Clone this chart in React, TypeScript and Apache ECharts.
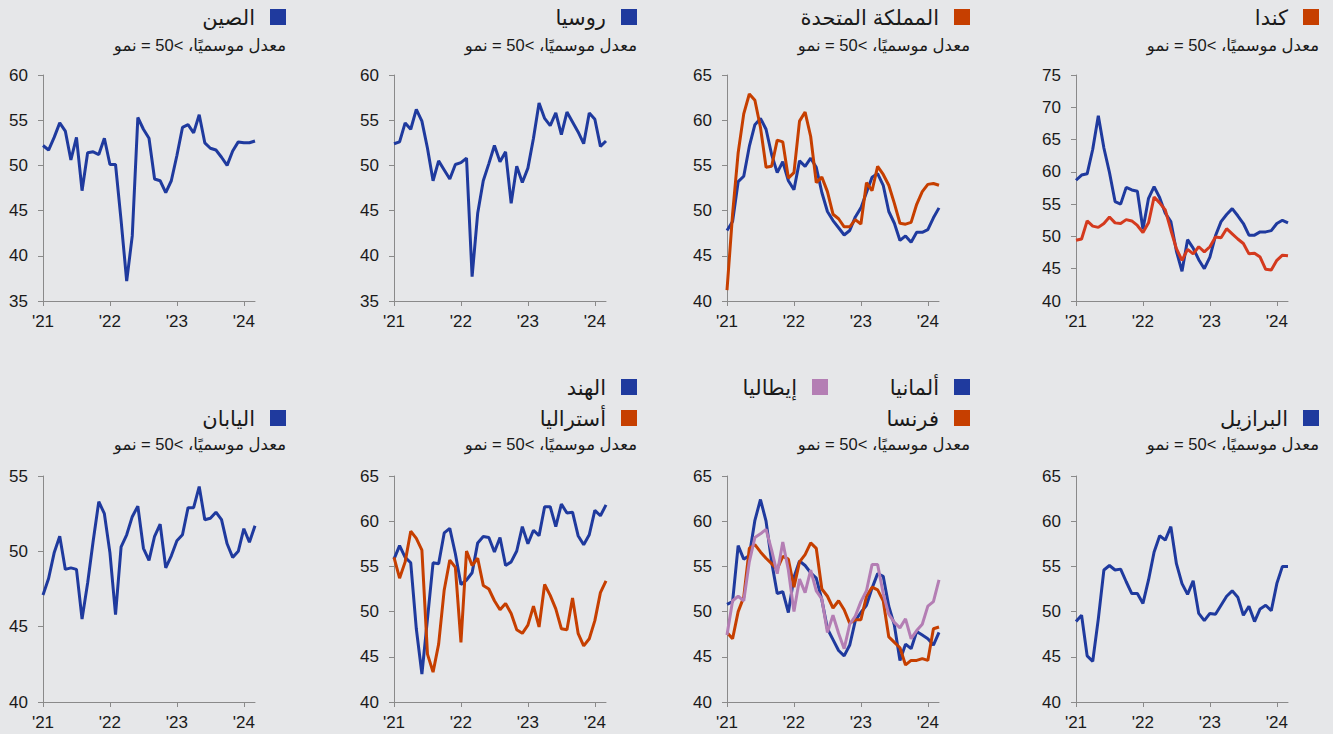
import React, { useEffect, useRef } from "react";
import * as echarts from "echarts";

// Months Jan 2021 .. Mar 2024
const MONTHS: string[] = [];
for (const y of [2021, 2022, 2023, 2024]) {
  for (let m = 1; m <= 12; m++) {
    if (y === 2024 && m > 3) break;
    MONTHS.push(`${y}-${String(m).padStart(2, "0")}`);
  }
}

const CHINA = [52.2, 51.7, 53.1, 54.7, 53.8, 50.6, 53.1, 47.2, 51.4, 51.5, 51.2, 53.0, 50.1, 50.1, 43.9, 37.2, 42.2, 55.3, 54.0, 53.0, 48.5, 48.3, 47.0, 48.3, 51.1, 54.2, 54.5, 53.6, 55.6, 52.5, 51.9, 51.7, 50.9, 50.0, 51.6, 52.6, 52.5, 52.5, 52.7];
const RUSSIA = [52.4, 52.6, 54.7, 54.0, 56.2, 54.9, 51.9, 48.3, 50.5, 49.5, 48.5, 50.1, 50.3, 50.8, 37.7, 44.7, 48.3, 50.2, 52.2, 50.4, 51.5, 45.8, 49.9, 48.1, 49.7, 53.0, 56.9, 55.2, 54.4, 55.8, 53.4, 55.9, 54.8, 53.7, 52.4, 55.8, 55.1, 52.1, 52.7];
const UK_BLUE = [47.8, 48.8, 53.2, 53.8, 57.1, 59.5, 60.2, 59.0, 56.2, 54.2, 55.4, 53.3, 52.3, 55.5, 54.9, 55.8, 54.8, 52.0, 49.9, 48.9, 48.1, 47.3, 47.8, 49.3, 50.3, 52.0, 53.7, 54.1, 52.8, 49.9, 48.6, 46.7, 47.2, 46.5, 47.6, 47.6, 47.9, 49.2, 50.3];
const UK = [41.2, 49.6, 56.4, 60.7, 62.9, 62.2, 59.2, 54.8, 54.9, 57.8, 57.6, 53.6, 54.2, 59.9, 60.9, 58.2, 53.1, 53.7, 52.1, 49.6, 49.1, 48.2, 48.2, 49.0, 48.5, 53.1, 52.2, 54.9, 54.0, 52.8, 50.8, 48.6, 48.5, 48.7, 50.7, 52.1, 52.9, 53.0, 52.8];
const CANADA_BLUE = [58.7, 59.5, 59.7, 63.5, 68.7, 63.7, 59.9, 55.4, 55.0, 57.6, 57.2, 57.0, 51.1, 55.9, 57.7, 56.0, 53.6, 52.3, 47.7, 44.6, 49.5, 48.2, 46.4, 45.0, 46.8, 50.1, 52.3, 53.4, 54.3, 53.2, 52.0, 50.2, 50.2, 50.7, 50.7, 50.9, 52.0, 52.5, 52.1];
const CANADA = [49.4, 49.6, 52.4, 51.6, 51.4, 52.0, 53.0, 52.1, 52.0, 52.6, 52.4, 51.7, 50.6, 52.1, 56.1, 55.2, 54.1, 51.0, 48.1, 46.3, 48.0, 47.3, 48.4, 47.6, 48.4, 49.9, 49.8, 51.2, 50.4, 49.6, 48.9, 47.3, 47.4, 46.8, 44.9, 44.8, 46.3, 47.1, 47.0];
const JAPAN = [47.1, 48.2, 49.9, 51.0, 48.8, 48.9, 48.8, 45.5, 47.9, 50.7, 53.3, 52.5, 49.9, 45.8, 50.3, 51.1, 52.3, 53.0, 50.2, 49.4, 51.0, 51.8, 48.9, 49.7, 50.7, 51.1, 52.9, 52.9, 54.3, 52.1, 52.2, 52.6, 52.1, 50.5, 49.6, 50.0, 51.5, 50.6, 51.7];
const INDIA = [55.8, 57.3, 56.0, 55.4, 48.1, 43.1, 49.2, 55.4, 55.3, 58.7, 59.2, 56.4, 53.0, 53.5, 54.3, 57.6, 58.3, 58.2, 56.6, 58.2, 55.1, 55.5, 56.7, 59.4, 57.5, 59.0, 58.4, 61.6, 61.6, 59.4, 61.9, 60.9, 61.0, 58.4, 57.4, 58.5, 61.2, 60.6, 61.8];
const AUSTRALIA = [56.0, 53.7, 55.5, 58.9, 58.1, 56.8, 45.3, 43.3, 46.4, 52.4, 55.7, 54.9, 46.6, 56.7, 55.1, 55.9, 52.9, 52.5, 51.2, 50.2, 50.9, 49.8, 48.0, 47.6, 48.5, 50.6, 48.3, 53.0, 51.8, 50.3, 48.1, 48.0, 51.5, 47.6, 46.2, 47.0, 49.0, 52.1, 53.4];
const GERMANY = [50.8, 51.1, 57.3, 55.8, 56.2, 60.1, 62.4, 60.0, 55.5, 52.0, 52.2, 49.9, 53.8, 55.6, 55.1, 54.3, 53.7, 51.3, 48.1, 46.9, 45.7, 45.1, 46.3, 49.0, 49.9, 50.7, 52.6, 54.2, 53.9, 50.6, 48.5, 44.6, 46.4, 45.9, 47.8, 47.4, 47.0, 46.3, 47.7];
const FRANCE = [47.7, 47.0, 50.0, 51.6, 57.0, 57.4, 56.6, 55.9, 55.3, 54.7, 56.1, 55.8, 52.7, 55.5, 56.3, 57.6, 57.0, 52.5, 51.7, 50.4, 51.2, 50.2, 48.7, 49.1, 49.1, 51.7, 52.7, 52.4, 51.2, 47.2, 46.6, 46.0, 44.1, 44.6, 44.6, 44.8, 44.6, 48.1, 48.3];
const ITALY = [47.4, 51.2, 51.7, 51.2, 55.5, 58.2, 58.6, 59.1, 56.8, 54.2, 57.7, 54.6, 50.0, 53.6, 52.1, 54.6, 52.3, 51.4, 47.7, 49.6, 47.6, 45.9, 48.6, 49.5, 51.1, 52.3, 55.2, 55.2, 52.0, 49.7, 48.8, 48.2, 49.2, 47.0, 47.9, 48.6, 50.6, 51.1, 53.5];
const BRAZIL = [48.9, 49.6, 45.1, 44.5, 49.2, 54.6, 55.1, 54.6, 54.7, 53.3, 52.0, 52.0, 50.9, 53.5, 56.6, 58.4, 57.9, 59.4, 55.3, 53.1, 51.9, 53.4, 49.8, 49.0, 49.8, 49.7, 50.7, 51.7, 52.3, 51.6, 49.6, 50.6, 48.9, 50.3, 50.7, 50.1, 53.1, 55.0, 55.0];

const SUBTITLE = "معدل موسميًا، >50 = نمو";

const BLUE = "#1f3a9e";
const ORANGE = "#c63f00";
const RED = "#d43a1e";
const PURPLE = "#b47eb4";
const BG = "#e6e7e9";
const AXIS = "#8a8a8a";
const TXT = "#1a1a1a";
const FONT = "'Liberation Sans', Arial, 'DejaVu Sans', sans-serif";

const COL_LEFT = [43, 394, 727, 1076];
const ROW_TOP = [75, 476];
const GRID_W = 212;
const GRID_H = 226;

type LegendItem = { label: string; color: string; line: number; offset: number };
type Panel = {
  col: number;
  row: number;
  min: number;
  max: number;
  lines: { name: string; data: number[]; color: string }[];
  legend: LegendItem[];
};

const PANELS: Panel[] = [
  { col: 0, row: 0, min: 35, max: 60, lines: [{ name: "الصين", data: CHINA, color: BLUE }], legend: [{ label: "الصين", color: BLUE, line: 1, offset: 0 }] },
  { col: 1, row: 0, min: 35, max: 60, lines: [{ name: "روسيا", data: RUSSIA, color: BLUE }], legend: [{ label: "روسيا", color: BLUE, line: 1, offset: 0 }] },
  { col: 2, row: 0, min: 40, max: 65, lines: [{ name: "uk-blue", data: UK_BLUE, color: BLUE }, { name: "المملكة المتحدة", data: UK, color: ORANGE }], legend: [{ label: "المملكة المتحدة", color: ORANGE, line: 1, offset: 0 }] },
  { col: 3, row: 0, min: 40, max: 75, lines: [{ name: "ca-blue", data: CANADA_BLUE, color: BLUE }, { name: "كندا", data: CANADA, color: RED }], legend: [{ label: "كندا", color: ORANGE, line: 1, offset: 0 }] },
  { col: 0, row: 1, min: 40, max: 55, lines: [{ name: "اليابان", data: JAPAN, color: BLUE }], legend: [{ label: "اليابان", color: BLUE, line: 1, offset: 0 }] },
  { col: 1, row: 1, min: 40, max: 65, lines: [{ name: "الهند", data: INDIA, color: BLUE }, { name: "أستراليا", data: AUSTRALIA, color: ORANGE }], legend: [{ label: "الهند", color: BLUE, line: 0, offset: 0 }, { label: "أستراليا", color: ORANGE, line: 1, offset: 0 }] },
  { col: 2, row: 1, min: 40, max: 65, lines: [{ name: "ألمانيا", data: GERMANY, color: BLUE }, { name: "فرنسا", data: FRANCE, color: ORANGE }, { name: "إيطاليا", data: ITALY, color: PURPLE }], legend: [{ label: "ألمانيا", color: BLUE, line: 0, offset: 0 }, { label: "إيطاليا", color: PURPLE, line: 0, offset: 142 }, { label: "فرنسا", color: ORANGE, line: 1, offset: 0 }] },
  { col: 3, row: 1, min: 40, max: 65, lines: [{ name: "البرازيل", data: BRAZIL, color: BLUE }], legend: [{ label: "البرازيل", color: BLUE, line: 1, offset: 0 }] },
];

function buildOption() {
  const grid: any[] = [];
  const xAxis: any[] = [];
  const yAxis: any[] = [];
  const series: any[] = [];
  const graphic: any[] = [];
  const yearTick = (idx: number) => idx % 12 === 0;

  PANELS.forEach((p, i) => {
    const left = COL_LEFT[p.col];
    const top = ROW_TOP[p.row];
    grid.push({ left, top, width: GRID_W, height: GRID_H, containLabel: false });
    xAxis.push({
      type: "category",
      gridIndex: i,
      data: MONTHS,
      boundaryGap: false,
      axisLine: { show: true, lineStyle: { color: AXIS, width: 1 } },
      axisTick: { show: true, interval: yearTick, length: 5, lineStyle: { color: AXIS } },
      axisLabel: {
        interval: yearTick,
        formatter: (v: string) => "'" + v.slice(2, 4),
        color: TXT,
        fontSize: 17,
        fontFamily: FONT,
        margin: 12,
      },
      splitLine: { show: false },
    });
    yAxis.push({
      type: "value",
      gridIndex: i,
      min: p.min,
      max: p.max,
      interval: 5,
      axisLine: { show: true, lineStyle: { color: AXIS, width: 1 } },
      axisTick: { show: true, length: 5, lineStyle: { color: AXIS } },
      axisLabel: { color: TXT, fontSize: 17, fontFamily: FONT, margin: 15 },
      splitLine: { show: false },
    });
    p.lines.forEach((l, k) => {
      series.push({
        type: "line",
        name: l.name,
        xAxisIndex: i,
        yAxisIndex: i,
        data: l.data,
        showSymbol: false,
        symbol: "none",
        z: 2 + k,
        lineStyle: { color: l.color, width: 3 },
        itemStyle: { color: l.color },
      });
    });

    // header
    const right = left + GRID_W + 31;
    const lineY = p.row === 0 ? [17, 17] : [387, 418];
    const subY = p.row === 0 ? 45 : 444;
    p.legend.forEach((lg) => {
      const r = right - lg.offset;
      const cy = lineY[lg.line];
      graphic.push({
        type: "rect",
        shape: { x: r - 16, y: cy - 8, width: 16, height: 16 },
        style: { fill: lg.color },
        silent: true,
      });
      graphic.push({
        type: "text",
        x: r - 31,
        y: cy,
        style: {
          text: lg.label,
          fill: TXT,
          font: `21px ${FONT}`,
          textAlign: "right",
          textVerticalAlign: "middle",
          align: "right",
          verticalAlign: "middle",
        },
        silent: true,
      });
    });
    graphic.push({
      type: "text",
      x: right,
      y: subY,
      style: {
        text: SUBTITLE,
        fill: TXT,
        font: `16.5px ${FONT}`,
        textAlign: "right",
        textVerticalAlign: "middle",
        align: "right",
        verticalAlign: "middle",
      },
      silent: true,
    });
  });

  return {
    animation: false,
    backgroundColor: BG,
    grid,
    xAxis,
    yAxis,
    series,
    graphic: { elements: graphic },
  };
}

export default function App() {
  const ref = useRef<HTMLDivElement>(null);
  useEffect(() => {
    if (!ref.current) return;
    const chart = echarts.init(ref.current, undefined, { renderer: "svg" });
    chart.setOption(buildOption() as any);
    return () => chart.dispose();
  }, []);
  return (
    <div
      ref={ref}
      style={{ position: "fixed", left: 0, top: 0, width: 1333, height: 734, background: BG }}
    />
  );
}
